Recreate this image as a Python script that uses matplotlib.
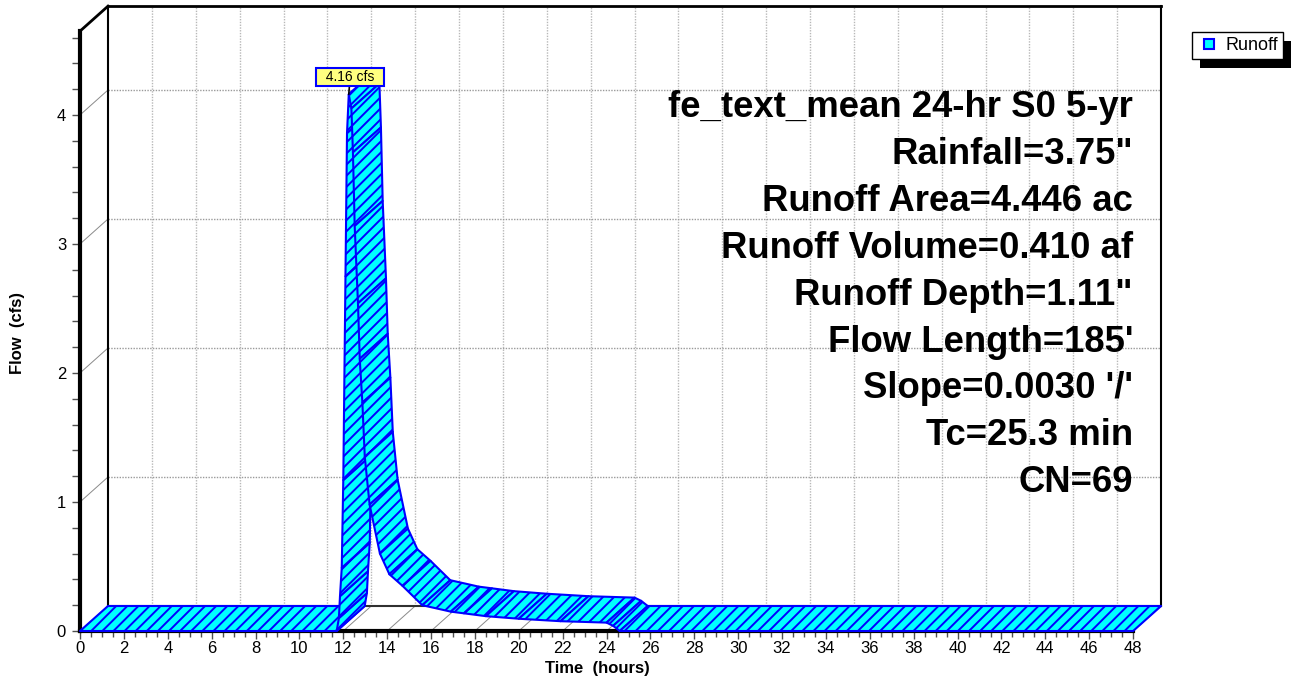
import numpy as np
import matplotlib
matplotlib.use('Agg')
import matplotlib.pyplot as plt
from matplotlib.patches import Polygon, Rectangle, Patch
from matplotlib.legend_handler import HandlerPatch

plt.rcParams['font.family'] = ['Liberation Sans', 'DejaVu Sans']
plt.rcParams['hatch.linewidth'] = 1.4

# ---------------- data ----------------
time_hr = [0, 11.7, 11.8, 11.85, 11.93, 12.0, 12.1, 12.17, 12.25, 12.37, 12.44,
           12.52, 12.67, 12.75, 12.87, 12.98, 13.2, 13.67, 14.1, 14.7, 15.6,
           16.9, 17.5, 18.5, 20.0, 21.9, 24.0, 24.3, 24.6, 48]
flow_cfs = [0, 0, 0.1, 0.27, 0.49, 1.17, 2.75, 3.86, 4.16, 4.05, 3.71,
            3.14, 2.54, 2.11, 1.77, 1.35, 0.98, 0.6, 0.44, 0.35, 0.2,
            0.15, 0.137, 0.115, 0.095, 0.076, 0.065, 0.04, 0, 0]
x_ticks = list(range(0, 49, 2))
y_ticks = [0, 1, 2, 3, 4]
info_lines = ["fe_text_mean 24-hr S0 5-yr", "Rainfall=3.75\"", "Runoff Area=4.446 ac",
              "Runoff Volume=0.410 af", "Runoff Depth=1.11\"", "Flow Length=185'",
              "Slope=0.0030 '/'", "Tc=25.3 min", "CN=69"]
series_name = "Runoff"
x_label = "Time  (hours)"
y_label = "Flow  (cfs)"

# ---------------- geometry ----------------
W, H = 1294, 685
fig = plt.figure(figsize=(W / 100, H / 100), dpi=100)
px_per_h = 21.94
px_per_q = 129.0
dx = 28 / px_per_h
dy = 25 / px_per_q
t_max = 48
q_top = 4.65
x0, y0 = 80, 631
ax = fig.add_axes([x0 / W, (H - y0) / H, (t_max + dx) * px_per_h / W,
                   (q_top + dy) * px_per_q / H])
ax.set_xlim(0, t_max + dx)
ax.set_ylim(0, q_top + dy)
ax.patch.set_visible(False)

for s in ['top', 'right']:
    ax.spines[s].set_visible(False)
ax.spines['left'].set_bounds(0, q_top)
ax.spines['bottom'].set_bounds(0, t_max)
for s in ['left', 'bottom']:
    ax.spines[s].set_linewidth(3)
    ax.spines[s].set_color('black')
    ax.spines[s].set_zorder(2)

ax.set_xticks(x_ticks)
ax.set_xticks(np.arange(0, t_max + 0.01, 0.5), minor=True)
ax.set_yticks(y_ticks)
ax.set_yticks(np.arange(0, q_top, 0.2), minor=True)
ax.tick_params(axis='x', which='major', length=6, width=1, color='#505050',
               labelsize=12, pad=1)
ax.tick_params(axis='x', which='minor', length=4, width=1, color='#505050')
ax.tick_params(axis='y', which='both', length=6, width=1, color='#505050',
               labelsize=12, pad=4)

# back wall
ax.add_patch(Rectangle((dx, dy), t_max, q_top, facecolor='white',
                       edgecolor='none', zorder=0))
gkw = dict(clip_on=False, zorder=1)
for t in x_ticks[1:-1]:
    ax.plot([t + dx, t + dx], [dy, q_top + dy], color='#b8b8b8', lw=1,
            ls=(0, (1, 1)), **gkw)
for q in y_ticks[1:]:
    ax.plot([dx, t_max + dx], [q + dy, q + dy], color='#9a9a9a', lw=1,
            ls=(0, (1, 1)), **gkw)
    ax.plot([0, dx], [q, q + dy], color='#8a8a8a', lw=0.7, **gkw)
for t in x_ticks:
    ax.plot([t, t + dx], [0, dy], color='#8a8a8a', lw=0.7, **gkw)
# wall borders
ax.plot([dx, t_max + dx], [q_top + dy, q_top + dy], color='black', lw=2, **gkw)
ax.plot([t_max + dx, t_max + dx], [dy, q_top + dy], color='black', lw=1.5, **gkw)
ax.plot([dx, dx], [dy, q_top + dy], color='black', lw=1.5, **gkw)
ax.plot([dx, t_max + dx], [dy, dy], color='#303030', lw=1.5, **gkw)
ax.plot([0, dx], [q_top, q_top + dy], color='black', lw=2, **gkw)

# ribbon
for i in range(len(time_hr) - 1):
    ta, tb = time_hr[i], time_hr[i + 1]
    qa, qb = flow_cfs[i], flow_cfs[i + 1]
    quad = [(ta, qa), (tb, qb), (tb + dx, qb + dy), (ta + dx, qa + dy)]
    ax.add_patch(Polygon(quad, closed=True, facecolor='#00ffff',
                         edgecolor='#0000ff', hatch='///', lw=1.5,
                         joinstyle='round', zorder=3, clip_on=False))

# peak label
ip = int(np.argmax(flow_cfs))
ax.annotate(f"  {flow_cfs[ip]:.2f} cfs  ", xy=(time_hr[ip], flow_cfs[ip]),
            xytext=(1, 12.5), textcoords='offset points', ha='center', va='center',
            fontsize=10,
            bbox=dict(boxstyle='square,pad=0.12', facecolor='#ffff80',
                      edgecolor='#0000ff', lw=1.5),
            arrowprops=dict(arrowstyle='-', color='black', lw=1.2,
                            shrinkA=0, shrinkB=0), zorder=6,
            annotation_clip=False)

# info text
for i, line in enumerate(info_lines):
    fig.text(1133 / W, 1 - (117 + 46.9 * i) / H, line, ha='right', va='baseline',
             fontsize=26.3, fontweight='bold', zorder=7)

fig.text(597 / W, 1 - 668 / H, x_label, ha='center', va='center',
         fontsize=12, fontweight='bold')
fig.text(18 / W, 1 - 333 / H, y_label, ha='center', va='center',
         fontsize=12, fontweight='bold', rotation=90)


# legend with hard shadow
def small_square(legend, orig_handle, xdescent, ydescent, width, height, fontsize):
    sq = 7.0
    return Rectangle((width - sq - xdescent, (height - sq) / 2 - ydescent), sq, sq)


handle = Patch(facecolor='#00ffff', edgecolor='#0000ff', lw=1.5)
leg = fig.legend([handle], [series_name], loc='upper left',
                 bbox_to_anchor=(1192 / W, 1 - 32 / H), fontsize=13,
                 frameon=True, fancybox=False, framealpha=1, edgecolor='black',
                 borderpad=0.28, handlelength=0.95, handleheight=0.6,
                 handletextpad=0.62, borderaxespad=0,
                 handler_map={Patch: HandlerPatch(patch_func=small_square)})
leg.get_frame().set_linewidth(1)
fig.canvas.draw()
bb = leg.get_window_extent()
fig.add_artist(Rectangle((bb.x0 + 8, bb.y0 - 9), bb.width, bb.height,
                         transform=None, facecolor='black', edgecolor='none',
                         zorder=leg.get_zorder() - 0.5))

fig.savefig('out.png', dpi=100)
